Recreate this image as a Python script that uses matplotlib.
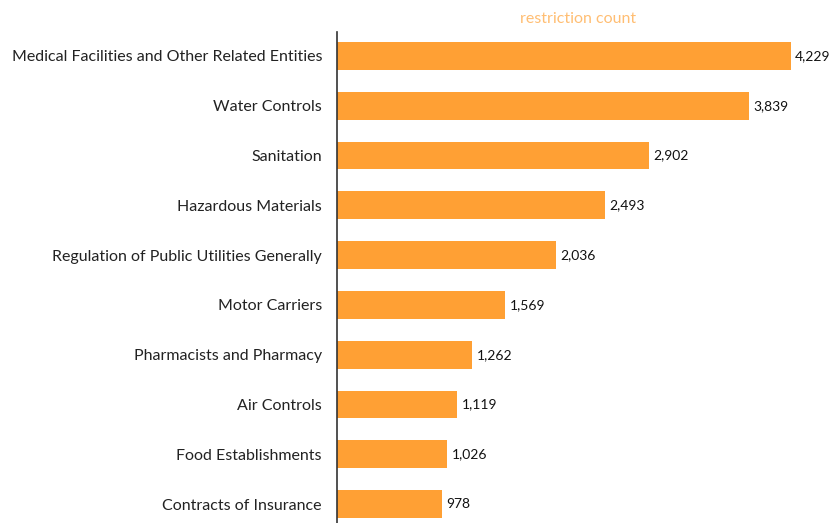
import matplotlib.pyplot as plt

categories = ['Medical Facilities and Other Related Entities', 'Water Controls', 'Sanitation',
              'Hazardous Materials', 'Regulation of Public Utilities Generally', 'Motor Carriers',
              'Pharmacists and Pharmacy', 'Air Controls', 'Food Establishments',
              'Contracts of Insurance']
counts = [4229, 3839, 2902, 2493, 2036, 1569, 1262, 1119, 1026, 978]

plt.rcParams['font.family'] = ['Lato', 'DejaVu Sans']

fig = plt.figure(figsize=(8.31, 5.23), dpi=100)
ax = fig.add_axes([337/831, 0, 494/831, 491/523])

pos = list(range(len(categories)))
ax.barh(pos, counts, height=0.56, color='#FFA034')
for p, c in zip(pos, counts):
    ax.text(c + 40, p, '{:,}'.format(c), va='center', ha='left', fontsize=10, color='#111111')

ax.set_xlim(0, 4602)
ax.set_ylim(9.38, -0.48)
ax.set_yticks(pos)
ax.set_yticklabels(categories, fontsize=11.5, color='#222222')
ax.tick_params(axis='y', length=0, pad=10.8)
ax.set_xticks([])
for s in ['top', 'right', 'bottom']:
    ax.spines[s].set_visible(False)
ax.spines['left'].set_color('#333333')
ax.spines['left'].set_linewidth(1.2)

fig.text(578/831, 1 - 19/523, 'restriction count', ha='center', va='center', fontsize=11.5, color='#FFBE73')

fig.savefig('out.png', dpi=100)
